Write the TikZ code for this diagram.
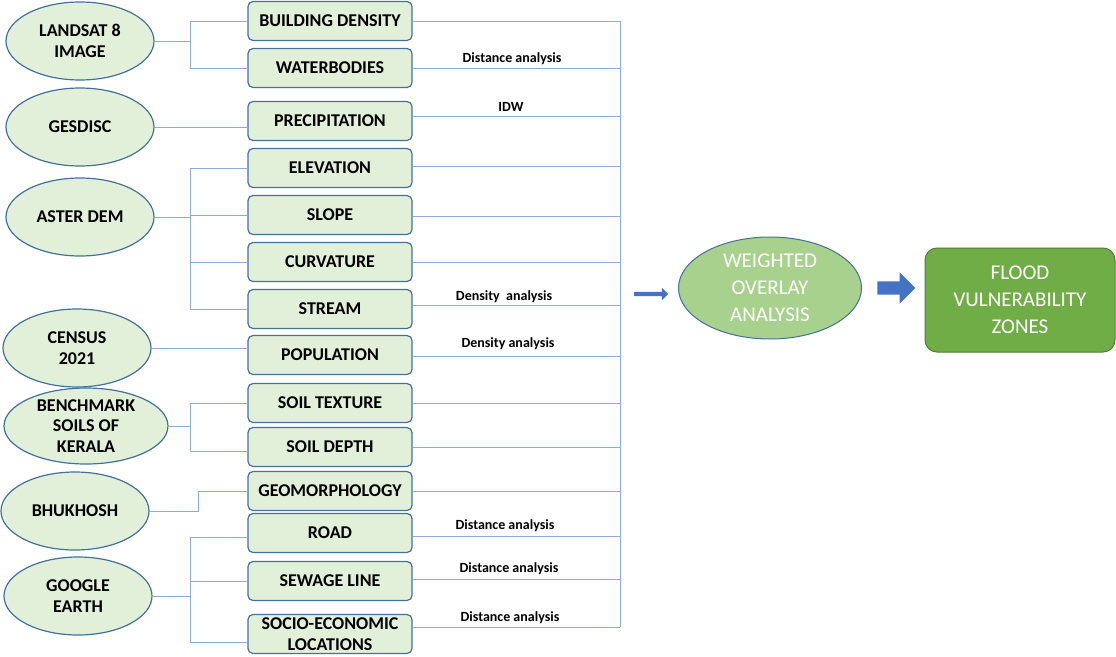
\documentclass[tikz,border=0pt]{standalone}
\usepackage{fontspec}
\setmainfont{Carlito}
\usetikzlibrary{shapes.geometric,shapes.arrows}
\definecolor{cellfill}{HTML}{E2F0D9}
\definecolor{cellline}{HTML}{41719C}
\definecolor{wirecol}{HTML}{8FAADC}
\definecolor{blockblue}{HTML}{4472C4}
\definecolor{overlaygreen}{HTML}{A9D18E}
\definecolor{zonegreen}{HTML}{70AD47}
\definecolor{zoneline}{HTML}{507E32}
\tikzset{
  source/.style={ellipse, draw=cellline, fill=cellfill, line width=1.2pt, inner sep=0pt,
    minimum width=148pt, minimum height=78pt, align=center,
    font=\bfseries\fontsize{18}{20.5}\selectfont},
  layer/.style={rectangle, rounded corners=5pt, draw=cellline, fill=cellfill, line width=1.2pt,
    inner sep=0pt, minimum width=164pt, minimum height=39pt, align=center,
    font=\bfseries\fontsize{18}{20.5}\selectfont},
  wire/.style={draw=wirecol, line width=0.9pt},
  note/.style={font=\bfseries\fontsize{14}{16}\selectfont, inner sep=1pt},
  blockarrow/.style={single arrow, fill=blockblue, draw=none, shape border rotate=0},
}
\begin{document}
\begin{tikzpicture}[x=1pt, y=-1pt]
\useasboundingbox (0,0) rectangle (1116,656);

% data sources
\node[source] (landsat) at (80,41) {LANDSAT 8\\IMAGE};
\node[source] (gesdisc) at (80,127) {GESDISC};
\node[source] (aster) at (80,217) {ASTER DEM};
\node[source] (census) at (77,348) {CENSUS\\2021};
\node[source, minimum width=164pt, minimum height=76pt] (bench) at (86,426) {BENCHMARK\\SOILS OF\\KERALA};
\node[source] (bhukhosh) at (75,511) {BHUKHOSH};
\node[source] (google) at (78,596) {GOOGLE\\EARTH};

% thematic layers
\foreach \n/\y/\t in {bd/21/BUILDING DENSITY, wb/68/WATERBODIES, pr/121/PRECIPITATION,
    el/168/ELEVATION, sl/215/SLOPE, cu/262/CURVATURE, st/309/STREAM, po/355/POPULATION,
    tx/403/SOIL TEXTURE, dp/447/SOIL DEPTH, gm/491/GEOMORPHOLOGY, rd/533/ROAD,
    sw/581/SEWAGE LINE, se/634/{SOCIO-ECONOMIC\\LOCATIONS}}
  \node[layer] (\n) at (330,\y) {\t};

% source -> layer links
\coordinate (fork) at (190,0);
\draw[wire] (landsat.east) -- (landsat.east -| fork);
\draw[wire] (bd.west) -| (fork |- wb.west) -- (wb.west);
\draw[wire] (gesdisc.east) -- (gesdisc.east -| pr.west);
\draw[wire] (aster.east) -- (aster.east -| fork);
\draw[wire] (el.west) -| (fork |- st.west) -- (st.west);
\foreach \n in {sl,cu} \draw[wire] (\n.west) -- (\n.west -| fork);
\draw[wire] (census.east) -- (census.east -| po.west);
\draw[wire] (bench.east) -- (bench.east -| fork);
\draw[wire] (tx.west) -| ([yshift=-4pt]fork |- dp.west) -- ([yshift=-4pt]dp.west);
\draw[wire] (bhukhosh.east) -- ++(49,0) |- (gm.west);
\draw[wire] (google.east) -- (google.east -| fork);
\draw[wire] ([yshift=-4pt]rd.west) -| ([yshift=-8pt]fork |- se.west) -- ([yshift=-8pt]se.west);
\draw[wire] (sw.west) -- (sw.west -| fork);

% layer -> overlay bus
\coordinate (bus) at (620,0);
\foreach \n/\dy in {bd/0, wb/0, pr/5, el/2, sl/-1, cu/0, st/4, po/-1, tx/0, dp/0, gm/0,
    rd/-3, sw/2, se/7}
  \draw[wire] ([yshift=\dy pt]\n.east) -- ([yshift=\dy pt]\n.east -| bus);
\draw[wire] (bd.east -| bus) -- ([yshift=7pt]se.east -| bus);

% processing notes
\node[note] (n1) at (512,59) {Distance analysis};
\node[note] (n2) at (511,107) {IDW};
\node[note] (n3) at (504,297) {Density\ \ analysis};
\node[note] (n4) at (508,344) {Density analysis};
\node[note] (n5) at (505,526) {Distance analysis};
\node[note] (n6) at (509,569) {Distance analysis};
\node[note] (n7) at (510,618) {Distance analysis};

% overlay and result
\node[blockarrow, inner sep=2pt, minimum height=34pt, single arrow head extend=4pt] (a1) at (650,294) {};
\node[ellipse, draw=cellline, fill=overlaygreen, line width=1pt, minimum width=183pt,
  minimum height=102pt, inner sep=0pt, align=center, text=white,
  font=\fontsize{21}{27}\selectfont] (wo) at (770,288) {WEIGHTED\\OVERLAY\\ANALYSIS};
\node[blockarrow, inner sep=6.5pt, minimum height=38pt, single arrow head extend=9pt] (a2) at (893,288) {};
\node[rectangle, rounded corners=12pt, draw=zoneline, fill=zonegreen, line width=1pt,
  minimum width=190pt, minimum height=104pt, inner sep=0pt, align=center, text=white,
  font=\fontsize{21}{27}\selectfont] (fvz) at (1020,300) {FLOOD\\VULNERABILITY\\ZONES};
\end{tikzpicture}
\end{document}
